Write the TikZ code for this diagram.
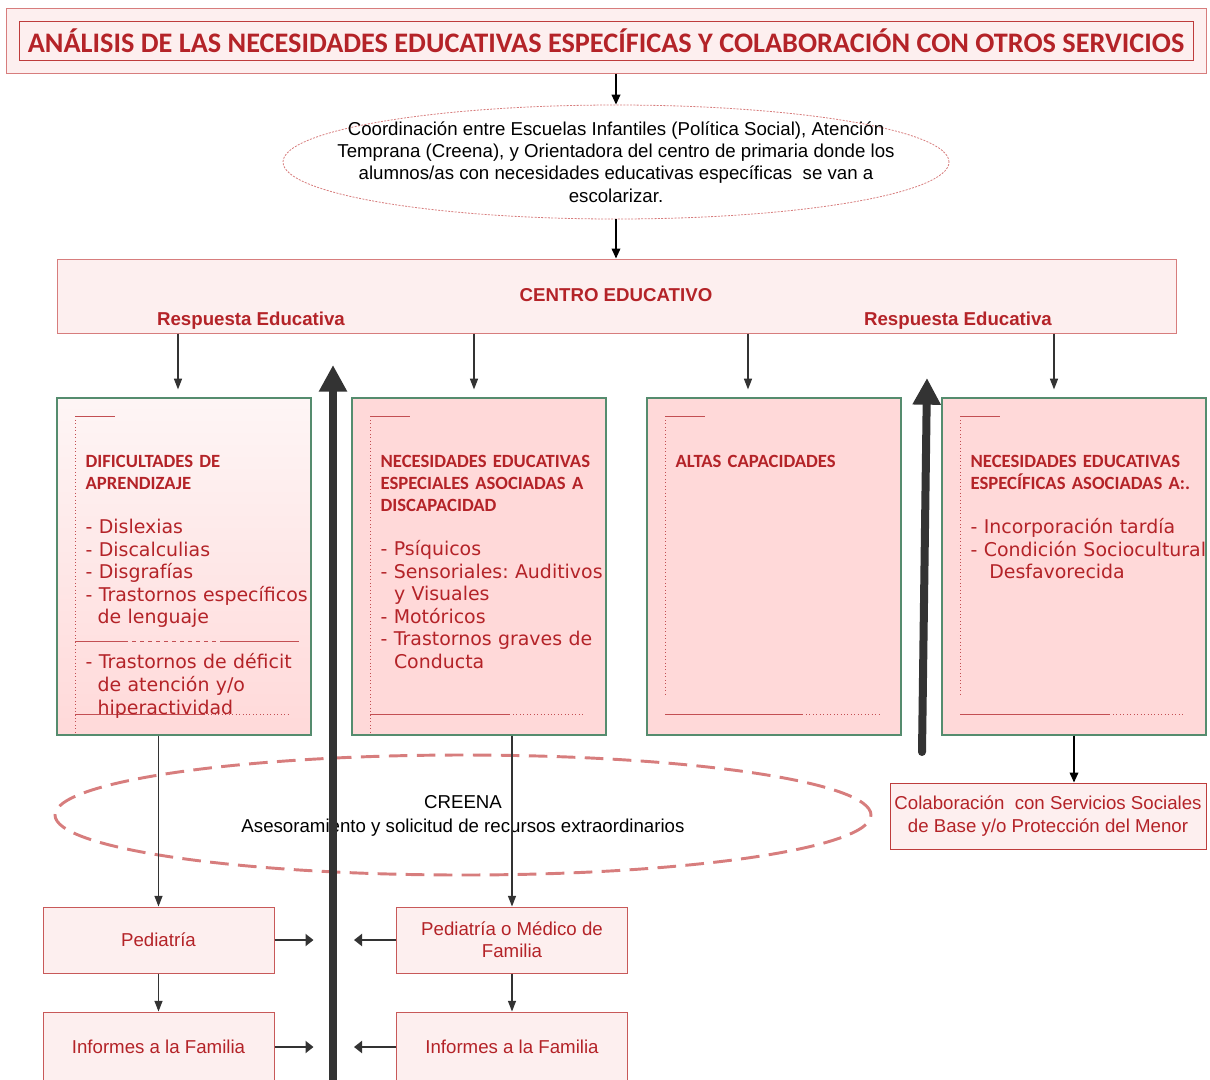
\documentclass[tikz,border=0pt]{standalone}
\usepackage{fontspec}
\setmainfont{Liberation Sans}
\newfontfamily\calfont{Carlito}
\newfontfamily\verdfont{DejaVu Sans}
\usetikzlibrary{arrows.meta,shapes.geometric}
\definecolor{rojotxt}{RGB}{180,35,40}
\definecolor{rosaclaro}{RGB}{253,239,239}
\definecolor{rosacaja}{RGB}{255,217,217}
\definecolor{bordeverde}{RGB}{85,140,110}
\definecolor{bordeclaro}{RGB}{215,125,125}
\definecolor{bordeosc}{RGB}{190,60,60}
\definecolor{gris}{RGB}{51,51,51}
\frenchspacing
\begin{document}
\begin{tikzpicture}[x=0.75pt, y=-0.75pt,
    every node/.style={font=\fontsize{14}{16.7}\selectfont},
    marco/.style={draw=bordeclaro, fill=rosaclaro, line width=0.75pt, inner sep=0pt},
    caja/.style={draw=bordeverde, fill=rosacaja, line width=0.9pt, minimum width=190.5pt, minimum height=252.75pt},
    servicio/.style={draw=bordeosc!85, fill=rosaclaro, text=rojotxt, align=center, line width=0.75pt, minimum width=173.25pt, minimum height=49.5pt},
    lista/.style={anchor=north west, inner sep=0pt, text=rojotxt, text width=200pt, execute at begin node=\raggedright,
                  font=\verdfont\fontsize{14.2}{16.9}\selectfont},
    flecha/.style={draw=black, line width=1.2pt, -{Triangle[width=6.5pt,length=7.5pt]}},
    fina/.style={draw=gris, line width=0.9pt, -{Triangle[width=6pt,length=8pt]}},
    grueso/.style={draw=gris, line width=6pt, -{Triangle[width=20pt,length=20pt]}},
    corto/.style={draw=gris, line width=2.2pt, -{Triangle[width=9pt,length=6pt]}},
    linea/.style={draw=rojotxt!80, line width=0.6pt}]
\useasboundingbox (0,0) rectangle (1210,1079);

\node[marco, minimum width=900pt, minimum height=48.75pt] (titulo) at (606,40.5) {};
\node[draw=bordeosc, line width=0.75pt, minimum width=880.5pt, minimum height=29.25pt, inner sep=0pt, text=rojotxt,
      font=\calfont\bfseries\fontsize{21.2}{25}\selectfont] (titulotxt) at (606,40.5)
      {ANÁLISIS DE LAS NECESIDADES EDUCATIVAS ESPECÍFICAS Y COLABORACIÓN CON OTROS SERVICIOS};

\node[ellipse, draw=bordeclaro, line width=0.6pt, dash pattern=on 1.5pt off 1pt, minimum width=499.5pt, minimum height=85.5pt] (coord) at (616,162) {};
\node[align=center] (coordtxt) at (616,162) {Coordinación entre Escuelas Infantiles (Política Social), Atención\\
    Temprana (Creena), y Orientadora del centro de primaria donde los\\
    alumnos/as con necesidades educativas específicas\ \ se van a\\
    escolarizar.};

\node[marco, minimum width=839.25pt, minimum height=55.5pt] (centro) at (616.5,296) {};
\node[text=rojotxt, font=\bfseries\fontsize{14}{16.7}\selectfont] (centrotxt) at (616,295) {CENTRO EDUCATIVO};
\node[text=rojotxt, font=\bfseries\fontsize{14}{16.7}\selectfont] (resp1) at (251,321) {Respuesta Educativa};
\node[text=rojotxt, font=\bfseries\fontsize{14}{16.7}\selectfont] (resp2) at (958,321) {Respuesta Educativa};

\draw[flecha] (titulo.south -| coord.north) -- (coord.north);
\draw[flecha] (coord.south) -- (coord.south |- centro.north);

\node[caja, top color=rosaclaro!60!white, bottom color=rosacaja] (dif) at (184,566.5) {};
\node[caja] (nee) at (479,566.5) {};
\node[caja] (altas) at (774,566.5) {};
\node[caja, minimum width=198pt] (nees) at (1074,566.5) {};

\draw[fina] ([xshift=-4.5pt]dif.north |- centro.south) -- ([xshift=-4.5pt,yshift=6pt]dif.north);
\draw[fina] ([xshift=-3.75pt]nee.north |- centro.south) -- ([xshift=-3.75pt,yshift=6pt]nee.north);
\draw[fina] ([xshift=-19.5pt]altas.north |- centro.south) -- ([xshift=-19.5pt,yshift=6pt]altas.north);
\draw[fina] ([xshift=-15pt]nees.north |- centro.south) -- ([xshift=-15pt,yshift=6pt]nees.north);

\foreach \b/\e/\s/\d in {dif/337/129/85, nee/337/139/75, altas/297/137/77, nees/297/149/76} {
  \draw[linea, dotted] ([shift={(19,19)}]\b.north west) -- ([shift={(19,\e)}]\b.north west);
  \draw[linea] ([shift={(19,19)}]\b.north west) -- ++(40,0);
  \draw[linea] ([shift={(19,317)}]\b.north west) -- ++(\s,0);
  \draw[linea, dotted] ([shift={(19+\s,317)}]\b.north west) -- ++(\d,0);
}
\draw[linea] ([shift={(19,244)}]dif.north west) -- ++(49,0);
\draw[linea, dashed] ([shift={(68,244)}]dif.north west) -- ++(100,0);
\draw[linea] ([shift={(168,244)}]dif.north west) -- ++(75,0);

\node[lista] (diftxt) at ([shift={(29,58)}]dif.north west) {{\calfont\bfseries\fontsize{14}{16.5}\selectfont DIFICULTADES DE\\APRENDIZAJE\par}
  \vspace{16pt}
  - Dislexias\\
  - Discalculias\\
  - Disgrafías\\
  - Trastornos específicos\\
  \hspace*{9pt}de lenguaje\par
  \vspace{16.9pt}
  - Trastornos de déficit\\
  \hspace*{9pt}de atención y/o\\
  \hspace*{9pt}hiperactividad};
\node[lista] (neetxt) at ([shift={(29,58)}]nee.north west) {{\calfont\bfseries\fontsize{14}{16.5}\selectfont NECESIDADES EDUCATIVAS\\ESPECIALES ASOCIADAS A\\DISCAPACIDAD\par}
  \vspace{16pt}
  - Psíquicos\\
  - Sensoriales: Auditivos\\
  \hspace*{10pt}y Visuales\\
  - Motóricos\\
  - Trastornos graves de\\
  \hspace*{10pt}Conducta};
\node[lista] (altastxt) at ([shift={(29,58)}]altas.north west) {{\calfont\bfseries\fontsize{14}{16.5}\selectfont ALTAS CAPACIDADES\par}};
\node[lista] (neestxt) at ([shift={(29,58)}]nees.north west) {{\calfont\bfseries\fontsize{14}{16.5}\selectfont NECESIDADES EDUCATIVAS\\ESPECÍFICAS ASOCIADAS A:.\par}
  \vspace{16pt}
  - Incorporación tardía\\
  - Condición Sociocultural\\
  \hspace*{14pt}Desfavorecida};

\node[servicio, draw=bordeosc, minimum width=237pt] (colab) at (1048,816) {Colaboración\ \ con Servicios Sociales\\de Base y/o Protección del Menor};
\draw[flecha] (nees.south) -- (nees.south |- colab.north);

\node[ellipse, draw=bordeclaro, line width=2.2pt, dash pattern=on 14pt off 7pt, minimum width=612pt, minimum height=90pt] (creena) at (463,815) {};
\node[align=center, font=\fontsize{14}{18}\selectfont] (creenatxt) at (463,815.5) {CREENA\\Asesoramiento y solicitud de recursos extraordinarios};

\node[servicio] (ped) at (158.5,940) {Pediatría};
\node[servicio, minimum height=52.5pt] (inf1) at (158.5,1047) {Informes a la Familia};
\node[servicio] (med) at (512,940) {Pediatría o Médico de\\Familia};
\node[servicio, minimum height=52.5pt] (inf2) at (512,1047) {Informes a la Familia};

\draw[fina] (dif.south -| ped.north) -- (ped.north);
\draw[fina] (nee.south -| med.north) -- (med.north);
\draw[fina] (ped) -- (inf1);
\draw[fina] (med) -- (inf2);

\draw[corto] (ped.east) -- ++(39,0);
\draw[corto] (inf1.east) -- ++(39,0);
\draw[corto] (med.west) -- ++(-42,0);
\draw[corto] (inf2.west) -- ++(-42,0);

\coordinate (subeA) at (333,1085);
\coordinate (subeB) at (333,365);
\coordinate (subeC) at (922,752);
\coordinate (subeD) at (927,378);
\draw[grueso] (subeA) -- (subeB);
\draw[grueso, line cap=round] (subeC) -- (subeD);
\end{tikzpicture}
\end{document}
